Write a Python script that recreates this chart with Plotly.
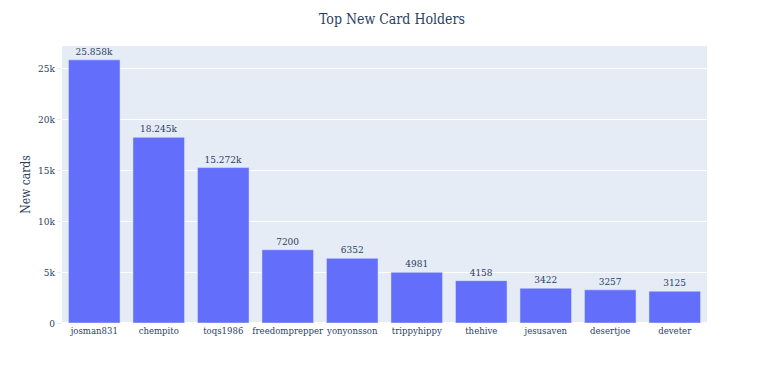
import plotly.graph_objects as go

users = ["josman831", "chempito", "toqs1986", "freedomprepper", "yonyonsson",
         "trippyhippy", "thehive", "jesusaven", "desertjoe", "deveter"]
new_cards = [25858, 18245, 15272, 7200, 6352, 4981, 4158, 3422, 3257, 3125]

font_family = "Rockwell, 'DejaVu Serif Condensed', 'DejaVu Serif', serif"

fig = go.Figure(go.Bar(x=users, y=new_cards, texttemplate="%{y}", textposition="outside",
                       marker_color="#636efa", textfont=dict(size=10)))
fig.update_layout(
    template="plotly",
    width=768, height=384,
    font=dict(family=font_family, size=10, color="#2a3f5f"),
    title=dict(text="Top New Card Holders", x=0.5, xanchor="center",
               y=0.971, yanchor="middle", font=dict(size=14)),
    margin=dict(l=54, r=69, t=38, b=69),
    yaxis=dict(title=dict(text="New cards", font=dict(size=12), standoff=4),
               automargin=True, ticks="outside",
               ticklen=4, tickcolor="#e5ecf6", tickfont=dict(size=10)),
    xaxis=dict(tickfont=dict(size=9.5), tickangle=0, automargin=False),
)
fig.write_html("out.html")
